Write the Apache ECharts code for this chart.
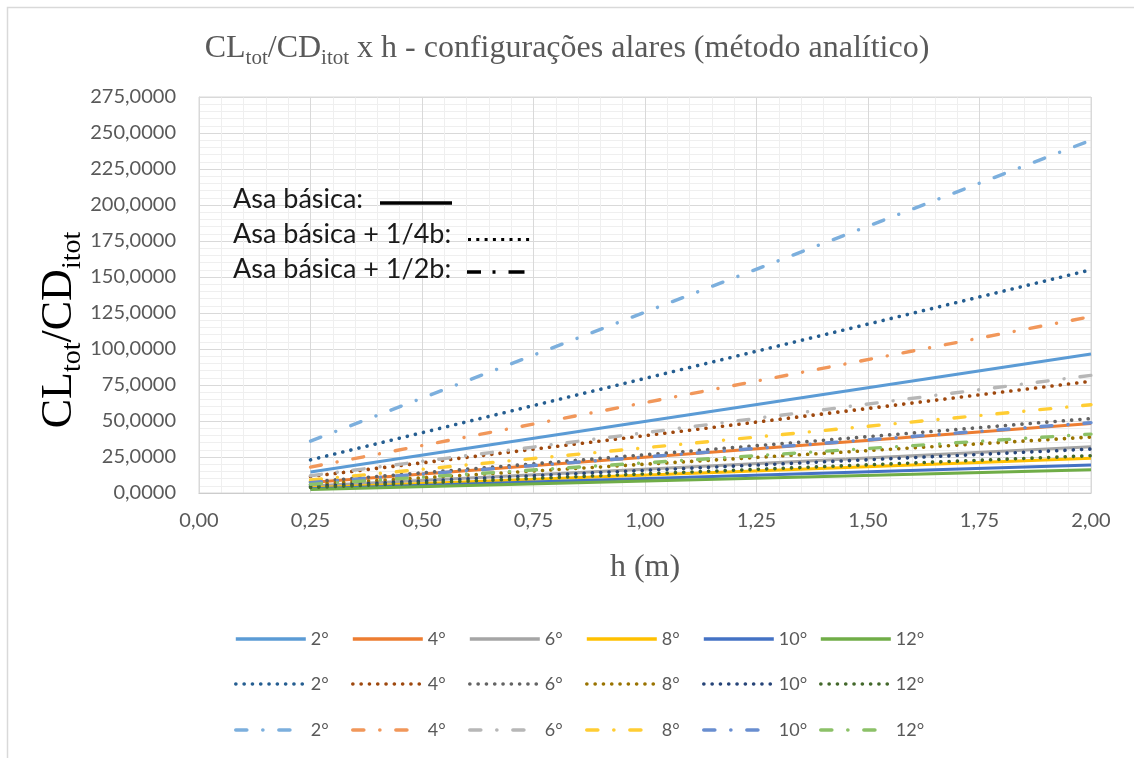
<!DOCTYPE html>
<html>
<head>
<meta charset="utf-8">
<title>CLtot/CDitot x h</title>
<script src="https://cdn.jsdelivr.net/npm/echarts@6/dist/echarts.min.js"></script>
<style>
  html, body { margin: 0; padding: 0; background: #fff; }
  #chart { width: 1134px; height: 758px; }
</style>
</head>
<body>
<div id="chart"></div>
<script>
// Altura em relação ao solo h (m)
const alturas = [0.25, 2.00];

// Ângulos de ataque de cada curva
const angulos = ['2°', '4°', '6°', '8°', '10°', '12°'];

// CLtot/CDitot — asa básica
const basica2 = [14.6, 96.5];
const basica4 = [7.3, 48.2];
const basica6 = [4.9, 32.2];
const basica8 = [3.7, 24.1];
const basica10 = [2.9, 19.4];
const basica12 = [2.4, 16.1];

// CLtot/CDitot — asa básica + 1/4b
const quarto2 = [23.0, 155.0];
const quarto4 = [11.5, 77.6];
const quarto6 = [7.7, 51.7];
const quarto8 = [5.8, 38.9];
const quarto10 = [4.6, 30.5];
const quarto12 = [3.8, 25.9];

// CLtot/CDitot — asa básica + 1/2b
const meio2 = [36.0, 245.0];
const meio4 = [18.0, 122.5];
const meio6 = [12.0, 81.7];
const meio8 = [9.0, 61.3];
const meio10 = [7.2, 48.8];
const meio12 = [6.0, 40.9];

// Rótulos dos eixos
const ticksX = ['0,00', '0,25', '0,50', '0,75', '1,00', '1,25', '1,50', '1,75', '2,00'];
const ticksY = ['0,0000', '25,0000', '50,0000', '75,0000', '100,0000', '125,0000',
                '150,0000', '175,0000', '200,0000', '225,0000', '250,0000', '275,0000'];

const familias = [
  { nome: 'Asa básica', valores: [basica2, basica4, basica6, basica8, basica10, basica12] },
  { nome: 'Asa básica + 1/4b', valores: [quarto2, quarto4, quarto6, quarto8, quarto10, quarto12] },
  { nome: 'Asa básica + 1/2b', valores: [meio2, meio4, meio6, meio8, meio10, meio12] }
];

// Estilo de cada família: cores e tracejado
const estilos = [
  { cores: ['#5B9BD5', '#ED7D31', '#A5A5A5', '#FFC000', '#4472C4', '#70AD47'],
    type: 'solid', cap: 'butt', width: 3 },
  { cores: ['#255E91', '#9E480E', '#636363', '#997300', '#264478', '#43682B'],
    type: [0.1, 8.2], cap: 'round', width: 3.6 },
  { cores: ['#7CAFDD', '#F1975A', '#B7B7B7', '#FFCD33', '#698ED0', '#8CC168'],
    type: [11, 16, 0.1, 16], cap: 'round', width: 3.4 }
];

const FONTE = 'Lato, "Noto Sans", sans-serif';
const SERIF = '"Liberation Serif", "Times New Roman", serif';
const CINZA = '#595959';

const series = [];
const legend = [];
const topoLinhas = [630, 675, 721];   // uma linha de legenda por família
const colunaInicio = 234, colunaPasso = 117;

familias.forEach((fam, fi) => {
  fam.valores.forEach((vals, ai) => {
    const nome = fam.nome + ' – ' + angulos[ai];
    series.push({
      name: nome,
      type: 'line',
      symbol: 'none',
      silent: true,
      data: alturas.map((h, i) => [h, vals[i]]),
      lineStyle: {
        color: estilos[fi].cores[ai],
        width: estilos[fi].width,
        type: estilos[fi].type,
        cap: estilos[fi].cap
      },
      itemStyle: { color: estilos[fi].cores[ai] }
    });
    // cada item da legenda ocupa uma célula de largura fixa
    legend.push({
      data: [nome],
      left: colunaInicio + colunaPasso * ai,
      top: topoLinhas[fi],
      padding: 0,
      itemWidth: 70,
      itemHeight: 14,
      selectedMode: false,
      itemStyle: { opacity: 0 },
      lineStyle: { width: 3.6 },
      formatter: n => n.split(' – ')[1],
      textStyle: { fontFamily: FONTE, fontSize: 18, color: CINZA }
    });
  });
});

const rich = {
  a: { fontFamily: SERIF, fontSize: 32, fontWeight: 'normal', color: CINZA,
       verticalAlign: 'bottom', padding: [0, 0, 4, 0] },
  s: { fontFamily: SERIF, fontSize: 21, fontWeight: 'normal', color: CINZA,
       verticalAlign: 'bottom' }
};

// título do eixo vertical, em corpo maior
const richY = {
  a: { fontFamily: SERIF, fontSize: 44, fontWeight: 'normal', color: CINZA,
       verticalAlign: 'bottom', padding: [0, 0, 5, 0] },
  s: { fontFamily: SERIF, fontSize: 28, fontWeight: 'normal', color: CINZA,
       verticalAlign: 'bottom' }
};

const chart = echarts.init(document.getElementById('chart'), null, { renderer: 'canvas' });
chart.setOption({
  backgroundColor: '#ffffff',
  animation: false,
  title: {
    text: '{a|CL}{s|tot}{a|/CD}{s|itot}{a| x h - configurações alares (método analítico)}',
    left: 'center',
    top: 28,
    textStyle: { fontWeight: 'normal', rich: rich }
  },
  legend: legend,
  grid: { left: 199, right: 43, top: 97, bottom: 265, containLabel: false },
  xAxis: {
    type: 'value',
    min: 0,
    max: 2,
    interval: 0.25,
    name: 'h (m)',
    nameLocation: 'middle',
    nameGap: 59,
    nameTextStyle: { fontFamily: SERIF, fontSize: 32, color: CINZA },
    axisLine: { show: true, lineStyle: { color: '#BFBFBF', width: 1 } },
    axisTick: { show: false },
    axisLabel: {
      margin: 18,
      fontFamily: FONTE, fontSize: 20, color: CINZA,
      formatter: v => ticksX[Math.round(v / 0.25)]
    },
    splitLine: { show: true, lineStyle: { color: '#D9D9D9', width: 1 } },
    minorTick: { show: false, splitNumber: 5 },
    minorSplitLine: { show: true, lineStyle: { color: '#EFEFEF', width: 1 } }
  },
  yAxis: {
    type: 'value',
    min: 0,
    max: 275,
    interval: 25,
    axisLine: { show: true, lineStyle: { color: '#D9D9D9', width: 1 } },
    axisTick: { show: false },
    axisLabel: {
      margin: 23,
      fontFamily: FONTE, fontSize: 20, color: CINZA,
      formatter: v => ticksY[Math.round(v / 25)]
    },
    splitLine: { show: true, lineStyle: { color: '#D9D9D9', width: 1 } },
    minorTick: { show: false, splitNumber: 5 },
    minorSplitLine: { show: true, lineStyle: { color: '#EFEFEF', width: 1 } }
  },
  graphic: [
    // moldura da área do gráfico
    { type: 'rect', silent: true, z: -1,
      shape: { x: 7.5, y: 7.5, width: 1140, height: 760 },
      style: { fill: null, stroke: '#D9D9D9', lineWidth: 1.5 } },
    // borda da área de plotagem
    { type: 'rect', silent: true, z: 1,
      shape: { x: 199, y: 97, width: 892, height: 396 },
      style: { fill: null, stroke: '#D9D9D9', lineWidth: 1 } },
    // título do eixo vertical
    { type: 'text', silent: true, rotation: Math.PI / 2, x: 62, y: 330, z: 100,
      style: {
        text: '{a|CL}{s|tot}{a|/CD}{s|itot}',
        rich: richY, align: 'center', verticalAlign: 'middle'
      } },
    // chave de estilos das famílias
    { type: 'text', silent: true, x: 233, y: 199, z: 100,
      style: { text: 'Asa básica:', font: '27px ' + FONTE, fill: '#1a1a1a',
               stroke: null, lineWidth: 0, verticalAlign: 'middle' } },
    { type: 'text', silent: true, x: 233, y: 234, z: 100,
      style: { text: 'Asa básica + 1/4b:', font: '27px ' + FONTE, fill: '#1a1a1a',
               stroke: null, lineWidth: 0, verticalAlign: 'middle' } },
    { type: 'text', silent: true, x: 233, y: 269, z: 100,
      style: { text: 'Asa básica + 1/2b:', font: '27px ' + FONTE, fill: '#1a1a1a',
               stroke: null, lineWidth: 0, verticalAlign: 'middle' } },
    { type: 'line', silent: true, z: 100,
      shape: { x1: 380, y1: 203, x2: 452, y2: 203 },
      style: { stroke: '#000', lineWidth: 3.5 } },
    { type: 'line', silent: true, z: 100,
      shape: { x1: 468, y1: 239.5, x2: 534, y2: 239.5 },
      style: { stroke: '#000', lineWidth: 3, lineDash: [3, 5.3] } },
    { type: 'line', silent: true, z: 100,
      shape: { x1: 467, y1: 272, x2: 527, y2: 272 },
      style: { stroke: '#000', lineWidth: 3.5, lineDash: [14, 11.5, 3, 13, 16, 100] } }
  ],
  series: series
});
</script>
</body>
</html>
